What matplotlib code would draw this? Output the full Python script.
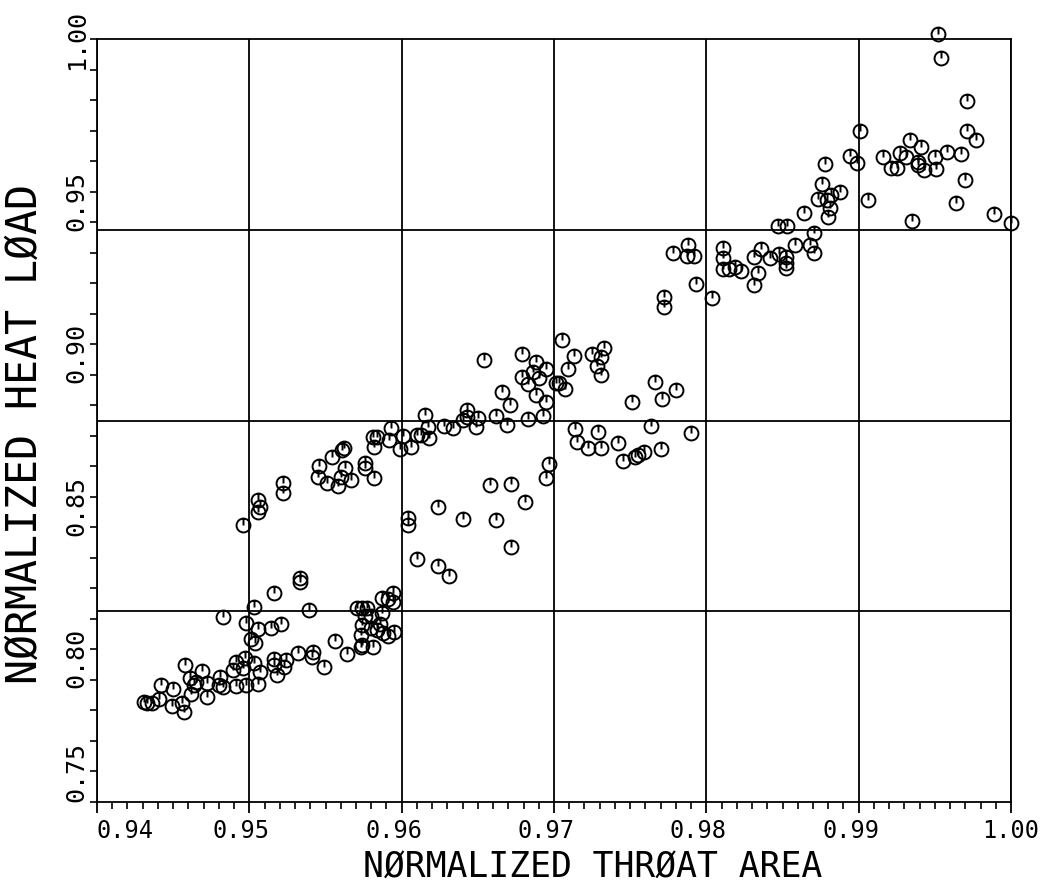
import matplotlib
matplotlib.use("Agg")
import matplotlib.pyplot as plt
from matplotlib.path import Path
from matplotlib.ticker import MultipleLocator
from matplotlib.transforms import ScaledTranslation

# normalized throat area / normalized heat load
throat_area = [
    0.9431, 0.9436, 0.9441, 0.9442, 0.9450, 0.9449, 0.9456, 0.9457, 0.9458, 0.9461,
    0.9462, 0.9465, 0.9469, 0.9472, 0.9472, 0.9480, 0.9481, 0.9483, 0.9491, 0.9489,
    0.9491, 0.9497, 0.9496, 0.9498, 0.9498, 0.9501, 0.9504, 0.9503, 0.9503, 0.9506,
    0.9507, 0.9516, 0.9506, 0.9514, 0.9521, 0.9516, 0.9516, 0.9518, 0.9524, 0.9523,
    0.9533, 0.9532, 0.9539, 0.9541, 0.9542, 0.9549, 0.9556, 0.9564, 0.9433, 0.9483,
    0.9464,
    0.9571, 0.9574, 0.9577, 0.9587, 0.9591, 0.9594, 0.9594, 0.9587, 0.9576, 0.9580,
    0.9574, 0.9580, 0.9586, 0.9584, 0.9588, 0.9595, 0.9591, 0.9573, 0.9574, 0.9573,
    0.9581,
    0.9496, 0.9506, 0.9507, 0.9506, 0.9522, 0.9522, 0.9533, 0.9546, 0.9545, 0.9551,
    0.9558, 0.9554, 0.9561, 0.9562, 0.9563, 0.9567, 0.9560, 0.9576, 0.9576, 0.9582,
    0.9581, 0.9584, 0.9582, 0.9592, 0.9593, 0.9601, 0.9599, 0.9606, 0.9610, 0.9613,
    0.9617, 0.9618, 0.9615, 0.9628, 0.9634, 0.9643, 0.9643, 0.9650, 0.9649, 0.9640,
    0.9662, 0.9669, 0.9683, 0.9693, 0.9654, 0.9666, 0.9671, 0.9679, 0.9688, 0.9686,
    0.9695, 0.9690, 0.9679, 0.9683, 0.9688, 0.9695, 0.9705, 0.9713, 0.9709, 0.9703,
    0.9707, 0.9701, 0.9714, 0.9715, 0.9697, 0.9695, 0.9658, 0.9672, 0.9681, 0.9662,
    0.9672, 0.9640, 0.9624, 0.9604, 0.9604, 0.9610, 0.9624, 0.9631,
    0.9725, 0.9733, 0.9731, 0.9728, 0.9731, 0.9766, 0.9780, 0.9771, 0.9751, 0.9764,
    0.9790, 0.9729, 0.9722, 0.9731, 0.9742, 0.9745, 0.9753, 0.9755, 0.9759, 0.9770,
    0.9772, 0.9772, 0.9778, 0.9788, 0.9787, 0.9792, 0.9793, 0.9804,
    0.9952, 0.9954, 0.9971, 0.9971, 0.9977, 0.9901, 0.9894, 0.9899, 0.9916, 0.9927,
    0.9934, 0.9941, 0.9931, 0.9921, 0.9925, 0.9939, 0.9939, 0.9943, 0.9950, 0.9951,
    0.9958, 0.9967, 0.9970, 0.9964, 0.9989, 1.0000, 0.9935, 0.9906, 0.9878, 0.9876,
    0.9888, 0.9882, 0.9873, 0.9879, 0.9881, 0.9880, 0.9864, 0.9847, 0.9853, 0.9871,
    0.9868, 0.9871, 0.9858, 0.9811, 0.9811, 0.9811, 0.9815, 0.9819, 0.9823, 0.9831,
    0.9836, 0.9834, 0.9831, 0.9842, 0.9848, 0.9852, 0.9852, 0.9852,
]
heat_load = [
    0.7829, 0.7825, 0.7837, 0.7883, 0.7869, 0.7815, 0.7824, 0.7796, 0.7949, 0.7906,
    0.7854, 0.7894, 0.7930, 0.7891, 0.7843, 0.7883, 0.7911, 0.8107, 0.7960, 0.7932,
    0.7880, 0.7971, 0.7938, 0.7883, 0.8086, 0.8033, 0.8020, 0.7956, 0.8138, 0.7887,
    0.7927, 0.8184, 0.8066, 0.8069, 0.8082, 0.7968, 0.7949, 0.7916, 0.7965, 0.7941,
    0.8222, 0.7989, 0.8129, 0.7976, 0.7992, 0.7941, 0.8028, 0.7985, 0.7824, 0.7878,
    0.7883,
    0.8137, 0.8137, 0.8137, 0.8167, 0.8165, 0.8184, 0.8156, 0.8118, 0.8109, 0.8109,
    0.8080, 0.8069, 0.8083, 0.8064, 0.8055, 0.8058, 0.8044, 0.8047, 0.8014, 0.8007,
    0.8007,
    0.8408, 0.8490, 0.8468, 0.8449, 0.8544, 0.8511, 0.8233, 0.8601, 0.8564, 0.8546,
    0.8536, 0.8631, 0.8653, 0.8661, 0.8593, 0.8555, 0.8566, 0.8612, 0.8593, 0.8561,
    0.8697, 0.8697, 0.8664, 0.8686, 0.8724, 0.8699, 0.8656, 0.8662, 0.8702, 0.8702,
    0.8730, 0.8692, 0.8768, 0.8732, 0.8724, 0.8784, 0.8762, 0.8757, 0.8728, 0.8752,
    0.8766, 0.8735, 0.8755, 0.8765, 0.8948, 0.8844, 0.8801, 0.8967, 0.8943, 0.8910,
    0.8919, 0.8888, 0.8892, 0.8869, 0.8834, 0.8811, 0.9014, 0.8961, 0.8918, 0.8874,
    0.8853, 0.8874, 0.8721, 0.8681, 0.8608, 0.8561, 0.8539, 0.8541, 0.8484, 0.8424,
    0.8337, 0.8426, 0.8466, 0.8430, 0.8408, 0.8295, 0.8273, 0.8240,
    0.8967, 0.8987, 0.8959, 0.8929, 0.8899, 0.8875, 0.8850, 0.8820, 0.8812, 0.8732,
    0.8708, 0.8713, 0.8659, 0.8659, 0.8675, 0.8618, 0.8629, 0.8637, 0.8648, 0.8656,
    0.9156, 0.9121, 0.9298, 0.9325, 0.9289, 0.9289, 0.9196, 0.9151,
    1.0015, 0.9937, 0.9797, 0.9699, 0.9669, 0.9700, 0.9618, 0.9593, 0.9614, 0.9627,
    0.9669, 0.9647, 0.9614, 0.9576, 0.9576, 0.9598, 0.9587, 0.9571, 0.9612, 0.9573,
    0.9631, 0.9622, 0.9538, 0.9462, 0.9426, 0.9398, 0.9404, 0.9472, 0.9589, 0.9524,
    0.9498, 0.9489, 0.9475, 0.9472, 0.9445, 0.9416, 0.9429, 0.9387, 0.9387, 0.9365,
    0.9325, 0.9298, 0.9325, 0.9314, 0.9283, 0.9245, 0.9245, 0.9254, 0.9240, 0.9287,
    0.9311, 0.9234, 0.9194, 0.9281, 0.9296, 0.9285, 0.9265, 0.9249,
]

x_ticks = [0.94, 0.95, 0.96, 0.97, 0.98, 0.99, 1.00]
y_ticks = [0.75, 0.80, 0.85, 0.90, 0.95, 1.00]
y_grid = [0.8125, 0.875, 0.9375]

plt.rcParams["font.family"] = ["DejaVu Sans Mono", "DejaVu Sans"]

# plotter symbol: circle with a stroke from the top to the centre
circ = Path.unit_circle()
stroke = Path([(0, 1), (0, 0)], [Path.MOVETO, Path.LINETO])
symbol = Path.make_compound_path(circ, stroke)

fig = plt.figure(figsize=(10.5, 8.91), dpi=100)
ax = fig.add_axes([97 / 1050, 1 - 802 / 891, 914 / 1050, 763 / 891])

ax.plot(throat_area, heat_load, linestyle="none", marker=symbol, ms=10,
        mfc="none", mec="black", mew=1.4, clip_on=False, zorder=3)

ax.set_xlim(0.94, 1.00)
ax.set_ylim(0.75, 1.00)
ax.set_xticks(x_ticks)
ax.set_xticklabels([f"{v:.2f}" for v in x_ticks])
ax.xaxis.set_minor_locator(MultipleLocator(0.001))
ax.set_yticks(y_ticks)
ax.set_yticklabels([f"{v:.2f}" for v in y_ticks])
ax.yaxis.set_minor_locator(MultipleLocator(0.01))

ax.tick_params(axis="x", which="major", direction="out", length=8, width=1.3,
               labelsize=17, pad=4)
ax.tick_params(axis="x", which="minor", direction="out", length=5, width=1.2)
ax.tick_params(axis="y", which="both", direction="out", length=5, width=1.2,
               labelsize=18, pad=1)
for sp in ax.spines.values():
    sp.set_linewidth(1.3)

ax.grid(axis="x", which="major", color="black", lw=1.3)
for yg in y_grid:
    ax.axhline(yg, color="black", lw=1.3)

# tick label placement like the plotter output
xl = ax.get_xticklabels()
for i, lab in enumerate(xl):
    if i == 0:
        lab.set_ha("left")
    elif i < len(xl) - 1:
        lab.set_transform(lab.get_transform() +
                          ScaledTranslation(-0.08, 0, fig.dpi_scale_trans))
yl = ax.get_yticklabels()
for i, lab in enumerate(yl):
    lab.set_rotation(90)
    if i == 0:
        lab.set_va("bottom")
    else:
        lab.set_va("center")
    if 0 < i < len(yl) - 1:
        lab.set_transform(lab.get_transform() +
                          ScaledTranslation(0, -0.09, fig.dpi_scale_trans))

ax.set_xlabel("NØRMALIZED THRØAT AREA", fontsize=25)
ax.xaxis.set_label_coords(0.5427, -0.063)
ax.set_ylabel("NØRMALIZED HEAT LØAD", fontsize=30)
ax.yaxis.set_label_coords(-0.056, 0.482)

fig.savefig("out.png", dpi=100)
